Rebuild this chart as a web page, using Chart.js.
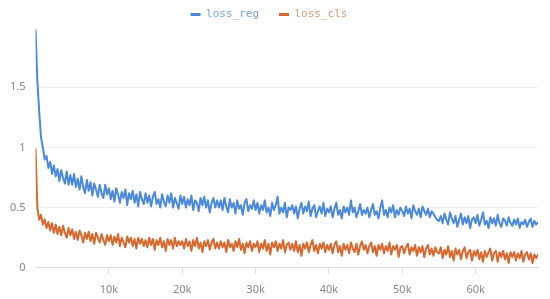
<!DOCTYPE html>
<html>
<head>
<meta charset="utf-8">
<script src="https://cdn.jsdelivr.net/npm/chart.js@4"></script>
<style>
  html, body { margin: 0; padding: 0; background: #fff; }
  #wrap { width: 550px; height: 299px; }
</style>
</head>
<body>
<div id="wrap"><canvas id="myChartline"></canvas></div>
<script>
// training step between two logged points
var stepSize = 250;

var seriesNames = ['loss_reg', 'loss_cls'];

var lossReg = [
  1.98, 1.55, 1.30, 1.08, 1.00, 0.90, 0.93, 0.83, 0.88, 0.78, 0.85, 0.76, 0.82, 0.72, 0.81, 0.75, 0.70, 0.80, 0.69, 0.77,
  0.69, 0.78, 0.67, 0.74, 0.65, 0.76, 0.67, 0.62, 0.73, 0.64, 0.71, 0.60, 0.70, 0.65, 0.59, 0.69, 0.62, 0.58, 0.69, 0.61,
  0.66, 0.57, 0.64, 0.55, 0.66, 0.61, 0.54, 0.63, 0.58, 0.65, 0.52, 0.62, 0.57, 0.64, 0.54, 0.61, 0.51, 0.63, 0.57, 0.53,
  0.62, 0.54, 0.60, 0.51, 0.59, 0.63, 0.53, 0.57, 0.50, 0.61, 0.55, 0.51, 0.60, 0.54, 0.62, 0.50, 0.58, 0.54, 0.49, 0.60,
  0.53, 0.59, 0.50, 0.57, 0.52, 0.60, 0.48, 0.56, 0.54, 0.47, 0.58, 0.52, 0.59, 0.50, 0.56, 0.46, 0.54, 0.58, 0.50, 0.56,
  0.50, 0.56, 0.48, 0.58, 0.51, 0.46, 0.57, 0.50, 0.54, 0.45, 0.56, 0.49, 0.52, 0.44, 0.54, 0.57, 0.47, 0.52, 0.49, 0.56,
  0.48, 0.54, 0.45, 0.52, 0.48, 0.56, 0.46, 0.50, 0.43, 0.54, 0.48, 0.52, 0.59, 0.45, 0.50, 0.46, 0.54, 0.42, 0.50, 0.48,
  0.52, 0.45, 0.51, 0.41, 0.49, 0.54, 0.45, 0.51, 0.47, 0.55, 0.43, 0.49, 0.52, 0.42, 0.47, 0.51, 0.45, 0.54, 0.43, 0.49,
  0.46, 0.51, 0.42, 0.49, 0.54, 0.44, 0.48, 0.41, 0.51, 0.46, 0.50, 0.44, 0.56, 0.46, 0.50, 0.42, 0.47, 0.53, 0.44, 0.48,
  0.45, 0.50, 0.42, 0.48, 0.53, 0.44, 0.47, 0.41, 0.50, 0.56, 0.44, 0.48, 0.42, 0.50, 0.46, 0.52, 0.42, 0.48, 0.44, 0.50,
  0.47, 0.43, 0.51, 0.45, 0.49, 0.41, 0.52, 0.47, 0.44, 0.49, 0.42, 0.51, 0.47, 0.44, 0.49, 0.42, 0.47, 0.45, 0.42, 0.40,
  0.39, 0.43, 0.37, 0.45, 0.40, 0.36, 0.46, 0.41, 0.37, 0.43, 0.34, 0.40, 0.45, 0.36, 0.42, 0.37, 0.43, 0.33, 0.40, 0.42,
  0.37, 0.44, 0.35, 0.40, 0.46, 0.36, 0.39, 0.33, 0.42, 0.37, 0.41, 0.35, 0.44, 0.37, 0.34, 0.41, 0.39, 0.35, 0.42, 0.37,
  0.35, 0.40, 0.36, 0.41, 0.33, 0.38, 0.36, 0.40, 0.34, 0.38, 0.41, 0.34, 0.39, 0.36, 0.38
];

var lossCls = [
  0.99, 0.50, 0.40, 0.44, 0.36, 0.40, 0.33, 0.38, 0.31, 0.37, 0.29, 0.36, 0.28, 0.34, 0.27, 0.35, 0.29, 0.25, 0.33, 0.27,
  0.32, 0.24, 0.30, 0.23, 0.31, 0.27, 0.21, 0.29, 0.24, 0.30, 0.22, 0.28, 0.20, 0.29, 0.25, 0.21, 0.28, 0.23, 0.19, 0.27,
  0.22, 0.27, 0.19, 0.26, 0.21, 0.28, 0.18, 0.25, 0.21, 0.17, 0.26, 0.21, 0.25, 0.18, 0.24, 0.16, 0.25, 0.20, 0.24, 0.18,
  0.23, 0.17, 0.25, 0.19, 0.24, 0.15, 0.23, 0.19, 0.25, 0.17, 0.22, 0.14, 0.24, 0.19, 0.23, 0.16, 0.25, 0.18, 0.22, 0.19,
  0.22, 0.16, 0.24, 0.18, 0.22, 0.14, 0.23, 0.18, 0.25, 0.16, 0.21, 0.13, 0.22, 0.18, 0.23, 0.15, 0.21, 0.24, 0.16, 0.21,
  0.16, 0.22, 0.17, 0.21, 0.13, 0.23, 0.17, 0.20, 0.14, 0.22, 0.17, 0.24, 0.15, 0.20, 0.12, 0.21, 0.17, 0.22, 0.14, 0.20,
  0.17, 0.22, 0.13, 0.20, 0.16, 0.23, 0.14, 0.20, 0.11, 0.21, 0.17, 0.22, 0.14, 0.20, 0.16, 0.23, 0.13, 0.19, 0.21, 0.15,
  0.20, 0.14, 0.22, 0.13, 0.19, 0.10, 0.20, 0.16, 0.21, 0.13, 0.19, 0.23, 0.14, 0.19, 0.12, 0.20, 0.16, 0.21, 0.13, 0.19,
  0.15, 0.20, 0.12, 0.19, 0.22, 0.13, 0.18, 0.10, 0.20, 0.15, 0.19, 0.12, 0.21, 0.16, 0.13, 0.20, 0.11, 0.18, 0.22, 0.15,
  0.19, 0.12, 0.18, 0.21, 0.13, 0.18, 0.10, 0.19, 0.15, 0.20, 0.12, 0.18, 0.14, 0.21, 0.11, 0.18, 0.15, 0.19, 0.09, 0.17,
  0.18, 0.12, 0.17, 0.20, 0.11, 0.17, 0.14, 0.19, 0.10, 0.17, 0.13, 0.18, 0.09, 0.16, 0.19, 0.11, 0.16, 0.10, 0.17, 0.13,
  0.12, 0.17, 0.08, 0.15, 0.11, 0.18, 0.09, 0.14, 0.06, 0.16, 0.11, 0.15, 0.07, 0.14, 0.17, 0.08, 0.13, 0.15, 0.06, 0.14,
  0.10, 0.15, 0.07, 0.13, 0.05, 0.14, 0.09, 0.13, 0.16, 0.06, 0.12, 0.14, 0.05, 0.13, 0.09, 0.14, 0.07, 0.12, 0.04, 0.13,
  0.09, 0.13, 0.06, 0.12, 0.08, 0.14, 0.05, 0.11, 0.13, 0.07, 0.12, 0.04, 0.11, 0.08, 0.11
];

var xTicks = [10000, 20000, 30000, 40000, 50000, 60000];
var yTicks = [0, 0.5, 1, 1.5];

var lineColors = ['#4a89dc', '#d9682e'];
var legendTextColors = ['#7ea2d4', '#d99670'];

function toPoints(values) {
  return values.map(function (v, i) { return { x: i * stepSize, y: v }; });
}

// legend needs wide gaps between items but a short height, so squeeze it
var legendSqueeze = {
  id: 'legendSqueeze',
  beforeInit: function (chart) {
    var fit = chart.legend.fit;
    chart.legend.fit = function () {
      fit.call(this);
      this.height = 27;
    };
  },
  afterLayout: function (chart) {
    chart.legend.top -= 11;
  }
};

var ctx = document.getElementById('myChartline').getContext('2d');
var chart = new Chart(ctx, {
  type: 'line',
  data: {
    datasets: [lossReg, lossCls].map(function (vals, i) {
      return {
        label: seriesNames[i],
        data: toPoints(vals),
        borderColor: lineColors[i],
        backgroundColor: lineColors[i],
        borderWidth: 2,
        borderJoinStyle: 'round',
        pointRadius: 0,
        tension: 0
      };
    })
  },
  plugins: [legendSqueeze],
  options: {
    responsive: true,
    maintainAspectRatio: false,
    animation: false,
    layout: { padding: { left: 0, right: 12, top: 0, bottom: -6 } },
    plugins: {
      tooltip: { enabled: false },
      legend: {
        position: 'top',
        align: 'center',
        labels: {
          boxWidth: 10,
          boxHeight: 3,
          padding: 20,
          font: { family: 'DejaVu Sans Mono', size: 11 },
          generateLabels: function (c) {
            return c.data.datasets.map(function (ds, i) {
              return {
                text: ds.label,
                fillStyle: lineColors[i],
                strokeStyle: lineColors[i],
                lineWidth: 0,
                fontColor: legendTextColors[i],
                datasetIndex: i
              };
            });
          }
        }
      }
    },
    scales: {
      x: {
        type: 'linear',
        min: 0,
        max: 68500,
        afterBuildTicks: function (axis) {
          axis.ticks = xTicks.map(function (v) { return { value: v }; });
        },
        grid: { drawOnChartArea: false, tickLength: 6, color: '#dddddd' },
        border: { color: '#dddddd' },
        ticks: {
          color: '#888888',
          padding: 9,
          maxRotation: 0,
          font: { family: 'Noto Sans', size: 11 },
          callback: function (value) { return (value / 1000) + 'k'; }
        }
      },
      y: {
        min: 0,
        max: 2,
        afterBuildTicks: function (axis) {
          axis.ticks = yTicks.map(function (v) { return { value: v }; });
        },
        grid: { drawTicks: false, color: '#eeeeee' },
        border: { display: false },
        ticks: {
          color: '#888888',
          padding: 10,
          font: { family: 'Noto Sans', size: 11 },
          callback: function (value) { return String(value); }
        }
      }
    }
  }
});
</script>
</body>
</html>
